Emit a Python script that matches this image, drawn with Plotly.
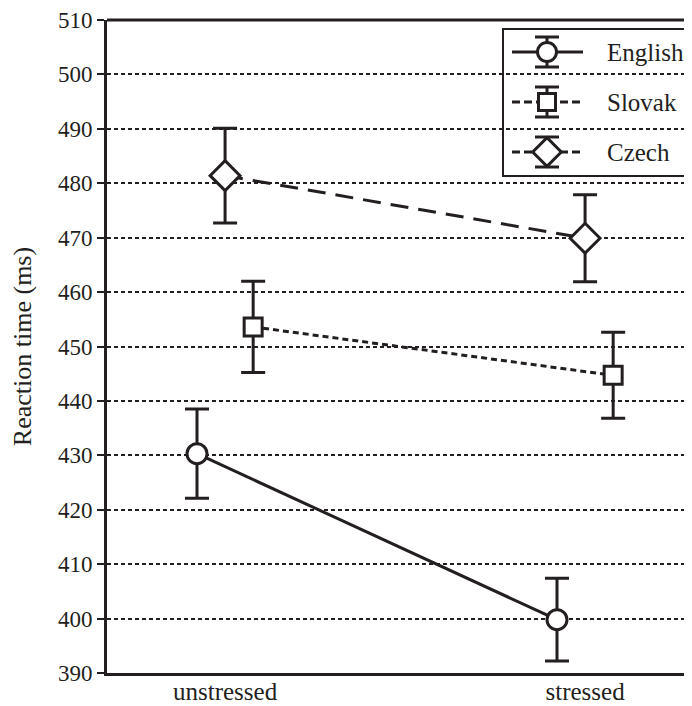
import plotly.graph_objects as go

categories = ["unstressed", "stressed"]
series_names = ["English", "Slovak", "Czech"]
english_rt = [430.3, 399.8]
english_err = [8.2, 7.6]
slovak_rt = [453.6, 444.7]
slovak_err = [8.4, 7.9]
czech_rt = [481.4, 469.9]
czech_err = [8.7, 8.0]
y_ticks = list(range(390, 511, 10))

INK = "#231f20"
FONT = "Liberation Serif"

styles = {
    "English": dict(symbol="circle", size=20, dash="solid", offset=-0.078, legdash="solid"),
    "Slovak": dict(symbol="square", size=18, dash="6px,4px", offset=0.078, legdash="8px,4px"),
    "Czech": dict(symbol="diamond", size=23, dash="18px,10px", offset=0.0, legdash="8px,4px"),
}
data = {
    "English": (english_rt, english_err),
    "Slovak": (slovak_rt, slovak_err),
    "Czech": (czech_rt, czech_err),
}

fig = go.Figure()
for name in series_names:
    vals, errs = data[name]
    st = styles[name]
    xs = [i + st["offset"] for i in range(len(categories))]
    fig.add_trace(go.Scatter(
        x=xs, y=vals, name=name, mode="lines+markers", showlegend=False,
        line=dict(color=INK, width=3, dash=st["dash"]),
        marker=dict(symbol=st["symbol"], size=st["size"], color="white",
                    line=dict(color=INK, width=3)),
        error_y=dict(type="data", array=errs, visible=True, color=INK,
                     thickness=3, width=12),
    ))

# Hand-drawn legend on an overlay axis measured in pixels of the plot frame
LEG_X0, LEG_X1, LEG_MID, LEG_TEXT = 512, 583, 547, 605
LEG_ROW0, LEG_STEP = 52, 50
annotations = []
for k, name in enumerate(series_names):
    st = styles[name]
    yc = LEG_ROW0 + k * LEG_STEP
    fig.add_trace(go.Scatter(
        x=[LEG_X0, LEG_X1], y=[yc, yc], xaxis="x2", yaxis="y2", mode="lines",
        showlegend=False, hoverinfo="skip",
        line=dict(color=INK, width=3, dash=st["legdash"])))
    fig.add_trace(go.Scatter(
        x=[LEG_MID], y=[yc], xaxis="x2", yaxis="y2", mode="markers",
        showlegend=False, hoverinfo="skip",
        marker=dict(symbol=st["symbol"], size=st["size"] - 1, color="white",
                    line=dict(color=INK, width=3)),
        error_y=dict(type="constant", value=15, visible=True, color=INK,
                     thickness=3, width=12)))
    annotations.append(dict(x=LEG_TEXT, y=yc, xref="x2", yref="y2", text=name,
                            showarrow=False, xanchor="left", yanchor="middle",
                            font=dict(size=25, family=FONT, color=INK)))

fig.update_layout(
    width=684, height=698,
    margin=dict(l=99, r=0, t=12, b=33),
    plot_bgcolor="white", paper_bgcolor="white",
    font=dict(family=FONT, color=INK, size=25),
    showlegend=False,
    xaxis=dict(range=[-0.328, 1.297], tickvals=[0, 1], ticktext=categories,
               showgrid=False, zeroline=False, showline=True, linecolor=INK,
               linewidth=3, ticks="", tickfont=dict(size=25, family=FONT, color=INK),
               ticklabelstandoff=-6, automargin=False),
    yaxis=dict(range=[390, 510], tickvals=y_ticks, showgrid=True,
               gridcolor=INK, gridwidth=2, griddash="4px,3px",
               zeroline=False, showline=True, linecolor=INK, linewidth=3,
               ticks="outside", ticklen=7, tickwidth=2, tickcolor=INK,
               tickfont=dict(size=23, family=FONT, color=INK),
               title=dict(text="Reaction time (ms)", standoff=20,
                          font=dict(size=26, family=FONT, color=INK)),
               automargin=False),
    xaxis2=dict(overlaying="x", range=[107, 692], visible=False, fixedrange=True),
    yaxis2=dict(overlaying="y", range=[673, 20], visible=False, fixedrange=True),
    annotations=annotations,
    shapes=[
        dict(type="line", xref="paper", yref="paper", x0=0, x1=1, y0=1, y1=1,
             line=dict(color=INK, width=3)),
        dict(type="rect", xref="x2", yref="y2", x0=503, x1=690, y0=29, y1=176,
             line=dict(color=INK, width=2), fillcolor="white", layer="below"),
    ],
)

fig.write_html("out.html")
